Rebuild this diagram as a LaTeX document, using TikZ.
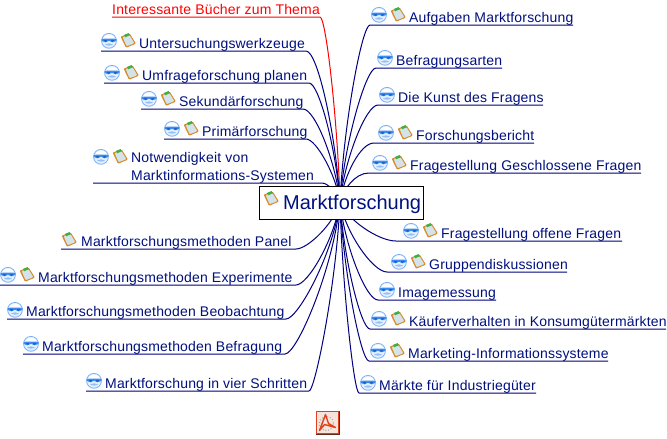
\documentclass[tikz,border=0pt]{standalone}
\usepackage{fontspec}
\setmainfont{Liberation Sans}
\newfontfamily\topicfont[LetterSpace=1.3]{Liberation Sans}
\usetikzlibrary{calc}
\definecolor{limbblue}{HTML}{000080}
\definecolor{inkblue}{HTML}{00107F}
\definecolor{globeblue}{HTML}{3A8CF0}
\definecolor{globedeep}{HTML}{1A5FC8}
\definecolor{globepale}{HTML}{E4F0FF}
\definecolor{padorange}{HTML}{D98A2B}
\definecolor{padpaper}{HTML}{D4E2EA}
\definecolor{padclip}{HTML}{3FAF3F}
\definecolor{pdfred}{HTML}{E0401C}
\definecolor{pdfedge}{HTML}{6E2412}
\definecolor{pdfpale}{HTML}{F6E3DC}
\tikzset{
  x=1pt,y=-1pt,
  topic/.style={anchor=base west,inner sep=0pt,text=inkblue,font=\topicfont\fontsize{14}{18}\selectfont,align=left},
  limb/.style={draw=limbblue,line width=1pt},
  curved/.style={to path={.. controls ($(\tikztostart)+(#1,0)$) and ($(\tikztotarget)!.5!(\tikztotarget|-\tikztostart)!.12!(\tikztostart|-\tikztotarget)$) .. (\tikztotarget)}},
  globe/.pic={
    \fill[globepale] (8,8) circle (8);
    \draw[globeblue!70,line width=.7pt] (8,7.8) circle (7.4);
    \fill[white] (3,3.4) .. controls (6,1.2) and (10,1.2) .. (13,3.4) -- (13,6) -- (3,6) -- cycle;
    \fill[globeblue] (.6,6) .. controls (4,5.4) and (12,5.4) .. (15.6,6) -- (15.2,8) .. controls (13,10) and (10,9.6) .. (8,7.8) .. controls (6,9.6) and (3,10) .. (.8,8) -- cycle;
    \fill[globedeep] (2.5,7) -- (6,7) -- (5,9) -- cycle;
    \fill[globedeep] (10,7) -- (13.5,7) -- (11,9) -- cycle;
    \fill[globeblue!55] (4,11.4) .. controls (6.5,10) and (9.5,10) .. (12,11.4) .. controls (10,13) and (6,13) .. (4,11.4) -- cycle;
  },
  notepad/.pic={
    \fill[padorange,rounded corners=1pt] (-.4,3.6) -- (8.6,0.4) -- (15,10.6) -- (5,14.8) -- cycle;
    \fill[padpaper,rounded corners=1pt] (1.6,4) -- (8.2,1.8) -- (13.4,10.2) -- (5.6,13.2) -- cycle;
    \fill[padclip] (2.9,2) -- (7.6,0) -- (8.8,2.3) -- (4.1,4.3) -- cycle;
  },
}
\newcommand{\hublimb}[3]{\draw[limb] (#1) -- (#2) to[curved=#3] (hub);}
\begin{document}
\begin{tikzpicture}
\useasboundingbox (0,0) rectangle (667,439);
\fill[white] (0,0) rectangle (667,439);
\coordinate (hub) at (340,202);

% upper left branches
\coordinate (a1) at (112,17);  \coordinate (b1) at (320,17);
\coordinate (a2) at (101,51);  \coordinate (b2) at (306,51);
\coordinate (a3) at (104,83);  \coordinate (b3) at (309,83);
\coordinate (a4) at (141,109); \coordinate (b4) at (303,109);
\coordinate (a5) at (164,139); \coordinate (b5) at (306,139);
\coordinate (a6) at (93,183);  \coordinate (b6) at (322,183);
% lower left branches
\coordinate (a7) at (61,249);  \coordinate (b7) at (296,249);
\coordinate (a8) at (0,285);   \coordinate (b8) at (296,285);
\coordinate (a9) at (7,319);   \coordinate (b9) at (286,319);
\coordinate (a10) at (23,354); \coordinate (b10) at (285,354);
\coordinate (a11) at (86,391); \coordinate (b11) at (309,391);
% upper right branches
\coordinate (a12) at (573,25);  \coordinate (b12) at (370,25);
\coordinate (a13) at (502,68);  \coordinate (b13) at (376,68);
\coordinate (a14) at (543,105); \coordinate (b14) at (378,105);
\coordinate (a15) at (534,143); \coordinate (b15) at (374,143);
\coordinate (a16) at (641,173); \coordinate (b16) at (369,173);
% lower right branches
\coordinate (a17) at (622,241); \coordinate (b17) at (396,241);
\coordinate (a18) at (567,272); \coordinate (b18) at (387,272);
\coordinate (a19) at (496,300); \coordinate (b19) at (378,300);
\coordinate (a20) at (666,329); \coordinate (b20) at (370,329);
\coordinate (a21) at (608,361); \coordinate (b21) at (369,361);
\coordinate (a22) at (536,393); \coordinate (b22) at (359,393);

\draw[limb,draw=red] (a1) -- (b1) to[curved=6] (hub);
\hublimb{a2}{b2}{12}
\hublimb{a3}{b3}{10}
\hublimb{a4}{b4}{12}
\hublimb{a5}{b5}{10}
\hublimb{a6}{b6}{6}
\hublimb{a7}{b7}{12}
\hublimb{a8}{b8}{12}
\hublimb{a9}{b9}{12}
\hublimb{a10}{b10}{12}
\hublimb{a11}{b11}{6}
\hublimb{a12}{b12}{-8}
\hublimb{a13}{b13}{-10}
\hublimb{a14}{b14}{-12}
\hublimb{a15}{b15}{-14}
\hublimb{a16}{b16}{-14}
\hublimb{a17}{b17}{-18}
\hublimb{a18}{b18}{-14}
\hublimb{a19}{b19}{-12}
\hublimb{a20}{b20}{-9}
\hublimb{a21}{b21}{-8}
\hublimb{a22}{b22}{-5}

% texts
\node[topic,text=red] (t1) at (112,14) {Interessante Bücher zum Thema};
\node[topic] (t2) at (139,48) {Untersuchungswerkzeuge};
\node[topic] (t3) at (142,80) {Umfrageforschung planen};
\node[topic] (t4) at (179,106) {Sekundärforschung};
\node[topic] (t5) at (202,136) {Primärforschung};
\node[topic] (t6a) at (131,162) {Notwendigkeit von};
\node[topic] (t6b) at (131,180) {Marktinformations-Systemen};
\node[topic] (t7) at (81,246) {Marktforschungsmethoden Panel};
\node[topic] (t8) at (38,282) {Marktforschungsmethoden Experimente};
\node[topic] (t9) at (26,316) {Marktforschungsmethoden Beobachtung};
\node[topic] (t10) at (42,351) {Marktforschungsmethoden Befragung};
\node[topic] (t11) at (105,388) {Marktforschung in vier Schritten};
\node[topic] (t12) at (409,22) {Aufgaben Marktforschung};
\node[topic] (t13) at (396,65) {Befragungsarten};
\node[topic] (t14) at (398,102) {Die Kunst des Fragens};
\node[topic] (t15) at (416,140) {Forschungsbericht};
\node[topic] (t16) at (410,170) {Fragestellung Geschlossene Fragen};
\node[topic] (t17) at (441,238) {Fragestellung offene Fragen};
\node[topic] (t18) at (429,269) {Gruppendiskussionen};
\node[topic] (t19) at (398,297) {Imagemessung};
\node[topic] (t20) at (409,326) {Käuferverhalten in Konsumgütermärkten};
\node[topic] (t21) at (408,358) {Marketing-Informationssysteme};
\node[topic] (t22) at (379,390) {Märkte für Industriegüter};

% icons
\foreach \px/\py in {101/33,104/65,141/91,164/121,93/149,0/267,7/302,23/336,86/373,371/7,377/50,379/87,378/125,372/155,403/223,391/254,379/282,371/311,370/343,360/375}
  \pic at (\px,\py) {globe};
\foreach \px/\py in {121/33,124/65,161/91,184/121,113/149,62/232,20/267,391/7,398/125,392/155,423/223,411/254,391/311,390/343}
  \pic at (\px,\py) {notepad};

% central topic
\node[draw=black,line width=1.1pt,fill=white,minimum width=164pt,minimum height=33pt,inner sep=0pt,anchor=north west] (root) at (258.5,185.5) {};
\node[anchor=base west,inner sep=0pt,text=inkblue,font=\fontsize{20}{24}\selectfont] (roottext) at (283,209) {Marktforschung};
\pic at (264,191) {notepad};

% document badge
\node[draw=pdfedge,line width=1pt,fill=pdfpale,minimum size=23pt,inner sep=0pt,anchor=north west] (badge) at (315.5,410.5) {};
\draw[pdfred,line width=1pt] ($(badge.north west)+(1.2,1.2)$) rectangle ($(badge.south east)+(-1.2,-1.2)$);
\draw[black!45,line width=.8pt,dotted] (badge.center) ++(-1,1) circle (7);
\draw[pdfred,line width=1.4pt,line join=round] ($(badge.center)+(-8,8)$) -- ($(badge.center)+(-2,-8)$) -- ($(badge.center)+(1,1)$) -- ($(badge.center)+(8,5)$) -- ($(badge.center)+(-3,2)$) -- cycle;
\end{tikzpicture}
\end{document}
